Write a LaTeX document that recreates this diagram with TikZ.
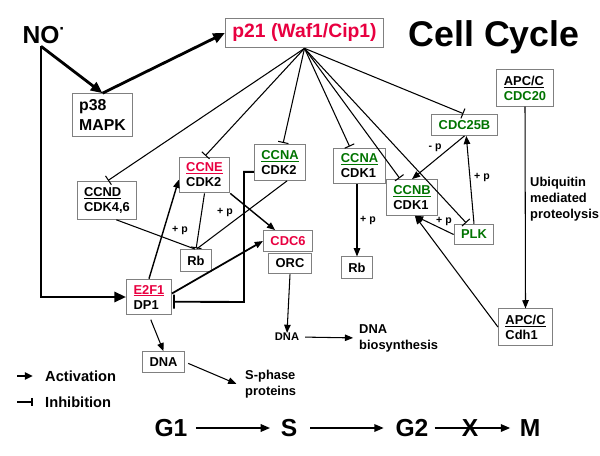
\documentclass[tikz,border=0pt]{standalone}
\usepackage{fontspec}
\setmainfont{Liberation Sans}
\usepackage{tikz}
\definecolor{Crimson}{RGB}{232, 0, 64}
\definecolor{Green60}{RGB}{0, 115, 0}
\definecolor{Grey50}{RGB}{128, 128, 128}
\usetikzlibrary{positioning, arrows.meta}
\tikzset{
    gene box/.style = {draw=Grey50, line width=0.8pt, align=left, inner xsep=6pt, inner ysep=5pt, font=\bfseries\fontsize{11}{12.8}\selectfont},
    text note/.style = {align=left, inner sep=0pt, font=\bfseries\fontsize{11}{13.5}\selectfont},
    phospho/.style = {inner sep=0pt, font=\bfseries\fontsize{9}{10}\selectfont},
    activation/.style = {line width=0.9pt, arrows = {-{Triangle[length=7pt, width=5.5pt]}}},
    inhibition/.style = {line width=0.9pt, arrows = {-{Bar[width=9pt]}}, shorten >=1pt}
}

\begin{document}
\begin{tikzpicture}[
    x=0.03cm, y=-0.03cm,
    phase/.style = {inner sep=0pt, font=\bfseries\fontsize{21}{25}\selectfont},
    phase arrow/.style = {line width=1.3pt, arrows = {-{Triangle[length=8pt, width=6.5pt]}}},
    pathway/.style = {line width=2.4pt, arrows = {-{Triangle[length=10pt, width=8.5pt]}}},
    legend line/.style = {line width=1.8pt}
    ]

    \useasboundingbox (0,0) rectangle (600,455);

    %%% Nodes
    % top row
    \node[inner sep=2pt, font=\bfseries\fontsize{21}{25}\selectfont] (no) at (41,35) {NO\rlap{\textsuperscript{·}}};
    \node[gene box, text=Crimson, font=\bfseries\fontsize{16.5}{19}\selectfont] (p21) at (304.5,33) {p21 (Waf1/Cip1)};
    \node[inner sep=0pt, font=\bfseries\fontsize{30.5}{36}\selectfont] (title) at (494,37) {Cell Cycle};
    \node[gene box, font=\bfseries\fontsize{13.5}{17}\selectfont] (p38) at (102.5,115) {p38\\MAPK};

    % G1/S
    \node[gene box] (ccnd)   at (107,200.5) {\underline{CCND}\\CDK4,6};
    \node[gene box] (ccne)   at (204.5,175) {\textcolor{Crimson}{\underline{CCNE}}\\CDK2};
    \node[gene box] (ccnak2) at (280,162.5) {\textcolor{Green60}{\underline{CCNA}}\\CDK2};
    \node[gene box] (rbA)    at (196,260.5) {Rb};
    \node[gene box, text=Crimson] (cdc6) at (288,241) {CDC6};
    \node[gene box] (orc)    at (290,263.5) {ORC};
    \node[gene box] (e2f)    at (149,297) {\textcolor{Crimson}{\underline{E2F1}}\\DP1};
    \node[gene box] (dnabox) at (163.5,362) {DNA};
    \node[phospho, font=\bfseries\fontsize{9.5}{11}\selectfont] (dnatxt) at (287,337) {DNA};
    \node[text note, anchor=west] (sphase) at (245,384) {S-phase\\proteins};
    \node[text note, anchor=west] (biosyn) at (359,338) {DNA\\biosynthesis};

    % G2/M
    \node[gene box] (ccnak1) at (359.5,166) {\textcolor{Green60}{\underline{CCNA}}\\CDK1};
    \node[gene box] (ccnb)   at (412,197.5) {\textcolor{Green60}{\underline{CCNB}}\\CDK1};
    \node[gene box, text=Green60] (cdc25) at (464.5,125) {CDC25B};
    \node[gene box, text=Green60] (plk)   at (474,234.5) {PLK};
    \node[gene box] (rbB)    at (357,267.5) {Rb};
    \node[gene box] (apcA)   at (525,88) {\underline{APC/C}\\\textcolor{Green60}{CDC20}};
    \node[gene box] (apcB)   at (525.5,327) {\underline{APC/C}\\Cdh1};
    \node[text note, anchor=west] (ubiq) at (530,199) {Ubiquitin\\mediated\\proteolysis};

    %%% NO pathway
    \draw[pathway] (no.south) -- (p38.north);
    \draw[pathway] (p38.north) -- (p21.west);
    \draw[pathway] (no.south) |- (e2f.west);

    %%% p21 inhibitions
    \draw[inhibition] (p21.south) -- (ccnd.north);
    \draw[inhibition] (p21.south) -- (ccne.north);
    \draw[inhibition] (p21.south) -- ([xshift=2.5pt]ccnak2.north);
    \draw[inhibition] (p21.south) -- ([xshift=-8pt]ccnak1.north);
    \draw[inhibition] (p21.south) -- ([xshift=-10pt]ccnb.north);
    \draw[inhibition] (p21.south) -- ([xshift=-6pt]plk.north);
    \draw[inhibition] (p21.south) -- (cdc25.north);

    %%% G1/S connections
    \draw[line width=0.9pt, shorten >=1pt] ([xshift=8pt]ccnd.south) -- (rbA.north);
    \draw[line width=0.9pt, shorten >=1pt] ([xshift=6pt]ccnak2.south) -- (rbA.north);
    \draw[inhibition] (ccne.south) -- (rbA.north);
    \draw[activation, line width=1.2pt] (e2f.north) -- ([yshift=-4pt]ccne.west);
    \draw[activation, line width=1.5pt] ([yshift=3pt]e2f.east) -- (cdc6.west);
    \draw[activation, line width=1.2pt] (ccne.south east) -- ([xshift=-11pt]cdc6.north);
    \coordinate (hook) at (244,302);
    \draw[inhibition, line width=1.6pt, arrows = {-{Bar[width=12pt]}}] ([yshift=-8pt]ccnak2.west) -| (hook) -- ([yshift=-4pt]e2f.east);
    \draw[activation] (orc.south) -- (dnatxt.north);
    \draw[activation, shorten <=4pt] (e2f.south) -- (dnabox.north);
    \draw[activation, shorten <=3pt, shorten >=8pt] (dnabox.east) -- ([yshift=-3pt]sphase.west);
    \draw[activation, shorten <=5pt, shorten >=5pt] (dnatxt.east) -- (biosyn.west);

    %%% G2/M connections
    \draw[activation] (ccnak1.south -| rbB.north) -- (rbB.north);
    \draw[activation] (cdc25.south) -- (ccnb.north);
    \draw[activation] (plk.north) -- ([xshift=1.5pt]cdc25.south);
    \draw[activation] (plk.west) -- ([xshift=2.5pt]ccnb.south);
    \draw[activation] (apcB.west) -- ([xshift=2.5pt]ccnb.south);
    \draw[activation] (apcA.south) -- (apcB.north);

    % phosphorylation labels
    \node[phospho] (pA) at (180,231) {+ p};
    \node[phospho] (pB) at (225,213) {+ p};
    \node[phospho] (pC) at (368,221) {+ p};
    \node[phospho] (pD) at (444,222) {+ p};
    \node[phospho] (pE) at (482,178) {+ p};
    \node[phospho] (pF) at (435,148) {- p};

    %%% Legend
    \coordinate (act start) at (17,376);
    \coordinate (act end)   at (33,376);
    \coordinate (inh start) at (17,402);
    \coordinate (inh end)   at (33,402);
    \draw[legend line, arrows = {-{Triangle[length=7pt, width=6pt]}}] (act start) -- (act end);
    \draw[legend line, arrows = {-{Bar[width=7pt]}}] (inh start) -- (inh end);
    \node[anchor=west, inner sep=0pt, font=\bfseries\fontsize{12.5}{15}\selectfont] (actlabel) at (45,376) {Activation};
    \node[anchor=west, inner sep=0pt, font=\bfseries\fontsize{12.5}{15}\selectfont] (inhlabel) at (45,402) {Inhibition};

    %%% Phases
    \node[phase] (g1) at (171,428) {G1};
    \node[phase] (s)  at (289,428) {S};
    \node[phase] (g2) at (412,428) {G2};
    \node[phase] (m)  at (530,428) {M};
    \draw[phase arrow, shorten <=7pt, shorten >=9pt] (g1) -- (s);
    \draw[phase arrow, shorten <=11pt, shorten >=10pt] (s) -- (g2);
    \draw[phase arrow, shorten <=5pt, shorten >=8pt] (g2) -- (m);
    \node[phase] (block) at (470,428) {X};
\end{tikzpicture}
\end{document}
